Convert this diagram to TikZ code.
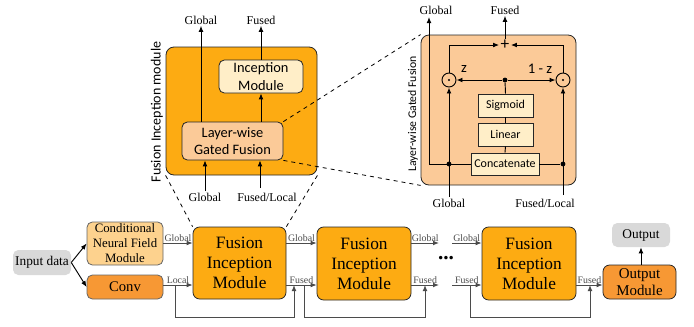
\documentclass[tikz,border=0pt]{standalone}
\usepackage{fontspec}
\setmainfont{Liberation Serif}
\newfontfamily\sansf{Carlito}
\usetikzlibrary{arrows.meta}
\definecolor{fimc}{RGB}{253,171,18}
\definecolor{peach}{RGB}{251,202,152}
\definecolor{cream}{RGB}{255,238,200}
\definecolor{cnfc}{RGB}{253,210,142}
\definecolor{convc}{RGB}{247,152,52}
\definecolor{grayc}{RGB}{217,217,217}
\definecolor{linec}{RGB}{75,75,75}
\tikzset{
  spanbox/.style n args={4}{minimum width={(#3-#1)*0.75pt}, minimum height={(#4-#2)*0.75pt}, at={({(#1+#3)/2},{(#2+#4)/2})}},
  box/.style={draw=black!85, rounded corners=4pt, inner sep=0pt, line width=0.6pt, align=center},
  gbox/.style={rounded corners=4pt, inner sep=0pt, fill=grayc, align=center},
  arr/.style={-{Latex[length=4.5pt,width=3.6pt]}, line width=0.7pt},
  garr/.style={arr, draw=linec},
  lab/.style={font={\fontsize{9}{10}\selectfont}, inner sep=1pt},
  slab/.style={font={\fontsize{7.4}{8}\selectfont}, text=linec, inner sep=1pt},
  bigt/.style={font={\fontsize{13}{15}\selectfont}},
  dotn/.style={circle, fill=black, inner sep=0pt, minimum size=3.6pt},
}
\begin{document}
\begin{tikzpicture}[x=0.75pt,y=-0.75pt]
\useasboundingbox (0,0) rectangle (694,326);
% ---------- top-left module ----------
\node[box, fill=fimc, rounded corners=6pt, spanbox={166}{47}{317}{175}] (fimbig) {};
\node[rotate=90, font={\sansf\fontsize{10.5}{12}\selectfont}] (fimlab) at (157,112) {Fusion Inception module};
\node[box, fill=cream, spanbox={219}{60}{303}{93}, font={\sansf\fontsize{10.8}{13}\selectfont}] (incep) {Inception\\Module};
\node[box, fill=peach, spanbox={182}{122}{283}{160}, font={\sansf\fontsize{10.8}{13}\selectfont}] (lgf) {Layer-wise\\Gated Fusion};
\node[lab] (tGlobal) at (201,20) {Global};
\node[lab] (tFused) at (261,20) {Fused};
\draw[arr] (lgf.north -| tGlobal) -- (tGlobal.south);
\draw[arr] (incep.north) -- (tFused.south);
\draw[arr] (lgf.north -| incep) -- (incep.south);
\node[lab] (bGlobal) at (205,197) {Global};
\node[lab] (bFL) at (267,197) {Fused/Local};
\coordinate (flin) at (260,188);
\draw[arr] (bGlobal.north) -- (bGlobal.north |- lgf.south);
\draw[arr] (flin) -- (flin |- lgf.south);
% ---------- right detail ----------
\node[box, fill=peach, rounded corners=6pt, spanbox={421}{35}{576}{185}] (lgfbig) {};
\node[rotate=90, font={\sansf\fontsize{8.8}{10}\selectfont}] (lgflab) at (413,114) {Layer-wise Gated Fusion};
\node[box, fill=cream, rounded corners=0pt, spanbox={471}{153}{539}{175}, font={\sansf\fontsize{9}{10}\selectfont}] (concat) {Concatenate};
\node[box, fill=cream, rounded corners=0pt, spanbox={478}{123}{533}{146}, font={\sansf\fontsize{9}{10}\selectfont}] (linear) {Linear};
\node[box, fill=cream, rounded corners=0pt, spanbox={478}{94}{533}{117}, font={\sansf\fontsize{9}{10}\selectfont}] (sigm) {Sigmoid};
\node[circle, draw=black, line width=0.7pt, minimum size=10.5pt, inner sep=0pt] (dotL) at (449,80) {};
\node[circle, draw=black, line width=0.7pt, minimum size=10.5pt, inner sep=0pt] (dotR) at (563,80) {};
\fill (dotL) circle (0.9pt);
\fill (dotR) circle (0.9pt);
\node[dotn] (jz) at (505,80) {};
\node[font={\sansf\fontsize{13}{13}\selectfont}, inner sep=1pt] (plus) at (505,45) {+};
\node[font={\sansf\fontsize{11}{12}\selectfont}] (zl) at (464,69) {z};
\node[font={\sansf\fontsize{11}{12}\selectfont}] (zr) at (540,69) {1 - z};
\node[lab] (rGlobal) at (436,10) {Global};
\node[lab] (rFused) at (505,10) {Fused};
\coordinate (rgx) at (429,17);
\draw[line width=0.7pt] (sigm.north) -- (jz);
\draw[arr] (jz) -- (dotL.east);
\draw[arr] (jz) -- (dotR.west);
\draw[line width=0.7pt] (sigm.south) -- (linear.north);
\draw[line width=0.7pt] (linear.south) -- (concat.north);
\draw[arr] (dotL.north) |- (plus.west);
\draw[arr] (dotR.north) |- (plus.east);
\draw[arr] (plus.north) -- (rFused.south);
\draw[arr] (concat.west) -| (rgx);
\node[dotn] (jL) at (449,164) {};
\node[dotn] (jR) at (563,164) {};
\draw[line width=0.7pt] (concat.east) -- (jR);
\node[lab] (rbGlobal) at (449,203) {Global};
\node[lab] (rbFL) at (545,203) {Fused/Local};
\coordinate (rflin) at (563,195);
\draw[arr] (rbGlobal.north) -- (dotL.south);
\draw[arr] (rflin) -- (dotR.south);
% ---------- bottom row ----------
\coordinate (grow) at (0,243);
\coordinate (frow) at (0,285);
\node[gbox, spanbox={13}{250}{71}{275}, font={\fontsize{10}{12}\selectfont}] (inp) {Input data};
\node[box, draw=black!60, fill=cnfc, spanbox={87}{222}{163}{265}, font={\fontsize{9.6}{11.2}\selectfont}] (cnf) {Conditional\\Neural Field\\Module};
\node[box, draw=black!60, fill=convc, spanbox={87}{275}{163}{299}, font={\fontsize{11}{12}\selectfont}] (conv) {Conv};
\node[box, fill=fimc, rounded corners=5pt, spanbox={193}{227}{286}{299}, bigt] (fim1) {Fusion\\Inception\\Module};
\node[box, fill=fimc, rounded corners=5pt, spanbox={317}{227}{411}{300}, bigt] (fim2) {Fusion\\Inception\\Module};
\node[box, fill=fimc, rounded corners=5pt, spanbox={482}{227}{576}{300}, bigt] (fim3) {Fusion\\Inception\\Module};
\node[box, fill=convc, rounded corners=5pt, spanbox={603}{265}{676}{299}, font={\fontsize{11.2}{12.6}\selectfont}] (outm) {Output\\Module};
\node[gbox, spanbox={612}{223}{670}{247}, font={\fontsize{10}{12}\selectfont}] (outp) {Output};
\draw[arr] (inp.east) -- (cnf.west);
\draw[arr] (inp.east) -- (conv.west);
\draw[garr] (cnf.east |- grow) -- node[slab, above] {Global} (fim1.west |- grow);
\draw[garr] (conv.east |- frow) -- node[slab, above] {Local} (fim1.west |- frow);
\draw[garr] (fim1.east |- grow) -- node[slab, above] {Global} (fim2.west |- grow);
\draw[garr] (fim1.east |- frow) -- node[slab, above] {Fused} (fim2.west |- frow);
\coordinate (gapL) at (439,0);
\coordinate (gapR) at (452,0);
\draw[garr] (fim2.east |- grow) -- node[slab, above] {Global} (gapL |- grow);
\draw[garr] (fim2.east |- frow) -- node[slab, above] {Fused} (gapL |- frow);
\node[font={\bfseries\fontsize{16}{16}\selectfont}, inner sep=0pt] (dots) at (446,258) {...};
\draw[garr] (gapR |- grow) -- node[slab, above] {Global} (fim3.west |- grow);
\draw[garr] (gapR |- frow) -- node[slab, above] {Fused} (fim3.west |- frow);
\draw[garr] (fim3.east |- frow) -- node[slab, above] {Fused} (outm.west |- frow);
\draw[arr] (outm.north -| outp) -- (outp.south);
% feedback
\coordinate (fb1a) at (175,285);
\coordinate (fb1b) at (294,285);
\coordinate (fb2a) at (304,285);
\coordinate (fb2b) at (425,285);
\coordinate (fb3a) at (470,285);
\coordinate (fb3b) at (590,285);
\draw[garr] (fb1a) -- ++(0,32) -| (fb1b);
\draw[garr] (fb2a) -- ++(0,32) -| (fb2b);
\draw[garr] (fb3a) -- ++(0,32) -| (fb3b);
% zoom lines
\draw[dashed, line width=0.6pt] (fimbig.south west) -- (fim1.north west);
\draw[dashed, line width=0.6pt] (fimbig.south east) -- (fim1.north east);
\draw[dashed, line width=0.6pt] (lgf.north east) -- (lgfbig.north west);
\draw[dashed, line width=0.6pt] (lgf.south east) -- (lgfbig.south west);
\end{tikzpicture}
\end{document}
